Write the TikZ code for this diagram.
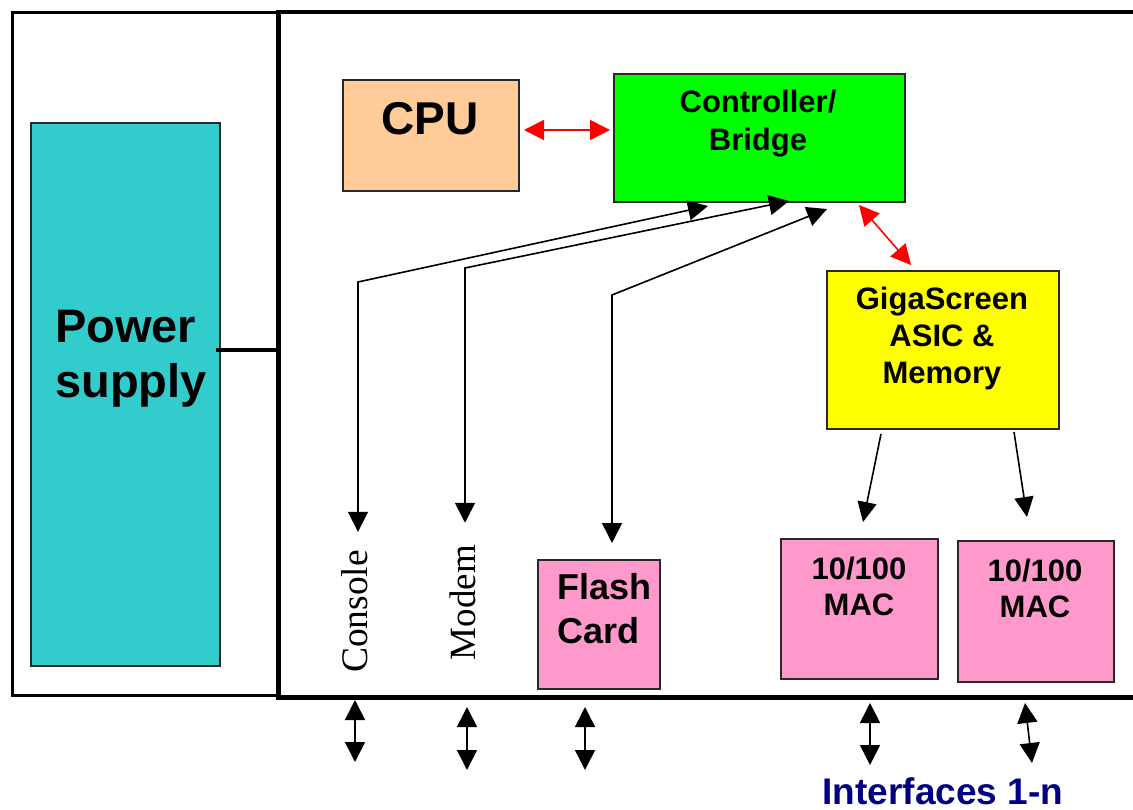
\documentclass[tikz,border=0pt]{standalone}
\usepackage{fontspec}
\setmainfont{Liberation Sans}
\newfontfamily\seriffont{Liberation Serif}
\usetikzlibrary{arrows.meta}
\definecolor{psucol}{RGB}{51,204,204}
\definecolor{cpucol}{RGB}{255,204,153}
\definecolor{ctrlcol}{RGB}{0,255,0}
\definecolor{gigacol}{RGB}{255,255,0}
\definecolor{pinkcol}{RGB}{255,153,204}
\definecolor{navycol}{RGB}{0,0,128}
\definecolor{bordercol}{RGB}{40,40,40}
\definecolor{redcol}{RGB}{255,0,0}
\begin{document}
\begin{tikzpicture}[x=1pt,y=-1pt,
  box/.style={draw=bordercol, line width=2pt, inner sep=0pt, anchor=north west},
  txt/.style={font=\bfseries, inner sep=0pt, anchor=base},
  arr/.style={line width=1.6pt, -{Triangle[length=20pt,width=19pt]}},
  darr/.style={line width=1.6pt, {Triangle[length=20pt,width=20pt]}-{Triangle[length=20pt,width=20pt]}},
  rarr/.style={draw=redcol, line width=1.6pt, {Triangle[length=20pt,width=20pt]}-{Triangle[length=20pt,width=20pt]}, color=redcol},
]
\useasboundingbox (0,0) rectangle (1133,810);

% enclosures
\node[draw=black, line width=3pt, inner sep=0pt, anchor=north west,
      minimum width=266pt, minimum height=683pt] (left) at (11,11) {};
\node[draw=black, line width=4.5pt, inner sep=0pt, anchor=north west,
      minimum width=880pt, minimum height=685pt] (main) at (276,10) {};

% boxes
\node[box, fill=psucol, minimum width=189pt, minimum height=543pt] (psu) at (30,122) {};
\node[box, fill=cpucol, minimum width=176pt, minimum height=111pt] (cpu) at (342,79) {};
\node[box, fill=ctrlcol, minimum width=291pt, minimum height=128pt] (ctrl) at (613,73) {};
\node[box, fill=gigacol, minimum width=232pt, minimum height=158pt] (giga) at (826,270) {};
\node[box, fill=pinkcol, minimum width=122pt, minimum height=129pt] (flash) at (537,559) {};
\node[box, fill=pinkcol, minimum width=157pt, minimum height=140pt] (mac1) at (780,538) {};
\node[box, fill=pinkcol, minimum width=156pt, minimum height=141pt] (mac2) at (957,540) {};

% texts
\node[txt, anchor=base west, font=\bfseries\fontsize{47}{50}\selectfont] (psut1) at (55,343) {Power};
\node[txt, anchor=base west, font=\bfseries\fontsize{47}{50}\selectfont] (psut2) at (55,398) {supply};
\node[txt, font=\bfseries\fontsize{46}{50}\selectfont] (cput) at (430,135) {CPU};
\node[txt, font=\bfseries\fontsize{31}{34}\selectfont] (ctrlt1) at (758,113) {Controller/};
\node[txt, font=\bfseries\fontsize{31}{34}\selectfont] (ctrlt2) at (758,151) {Bridge};
\node[txt, font=\bfseries\fontsize{31}{34}\selectfont] (gigat1) at (942,310) {GigaScreen};
\node[txt, font=\bfseries\fontsize{31}{34}\selectfont] (gigat2) at (942,347) {ASIC \&};
\node[txt, font=\bfseries\fontsize{31}{34}\selectfont] (gigat3) at (942,384) {Memory};
\node[txt, anchor=base west, font=\bfseries\fontsize{36}{40}\selectfont] (flasht1) at (557,599) {Flash};
\node[txt, anchor=base west, font=\bfseries\fontsize{36}{40}\selectfont] (flasht2) at (557,643) {Card};
\node[txt, font=\bfseries\fontsize{31}{34}\selectfont] (mac1t1) at (859,579) {10/100};
\node[txt, font=\bfseries\fontsize{31}{34}\selectfont] (mac1t2) at (859,615) {MAC};
\node[txt, font=\bfseries\fontsize{31}{34}\selectfont] (mac2t1) at (1035,581) {10/100};
\node[txt, font=\bfseries\fontsize{31}{34}\selectfont] (mac2t2) at (1035,617) {MAC};
\node[txt, text=navycol, font=\bfseries\fontsize{37}{40}\selectfont] (ifaces) at (943,804) {Interfaces 1-n};
\node[inner sep=0pt, anchor=base, rotate=90, font=\seriffont\fontsize{37.5}{40}\selectfont] (console) at (367,611.5) {Console};
\node[inner sep=0pt, anchor=base, rotate=90, font=\seriffont\fontsize{37}{40}\selectfont] (modem) at (475,602.5) {Modem};

% power connection
\coordinate (p1) at ([shift={(-5,-44.5)}]psu.east);
\draw[line width=4pt] (p1) -- ([xshift=3pt]p1 -| main.west);

% red links
\coordinate (r1) at ([shift={(4,-5.5)}]cpu.east);
\draw[rarr] (r1) -- ([xshift=-3pt]r1 -| ctrl.west);
\draw[rarr] ([shift={(99.5,2)}]ctrl.south) -- ([shift={(-32,-5)}]giga.north);

% console / modem / flash links
\coordinate (k1) at (358,282);
\coordinate (k2) at (465,268);
\coordinate (k3) at (612,295);
\draw[darr] ([shift={(-51.5,3)}]ctrl.south) -- (k1) -- ([yshift=18pt]k1 |- console.east);
\draw[darr] ([shift={(29.5,-2)}]ctrl.south) -- (k2) -- ([yshift=22pt]k2 |- modem.east);
\draw[darr] ([shift={(67.5,6)}]ctrl.south) -- (k3) -- ([yshift=16pt]k3 |- flash.north);

% giga to MACs
\draw[arr] ([shift={(-62,4)}]giga.south) -- ([shift={(3.5,-16)}]mac1.north);
\draw[arr] ([shift={(71,2)}]giga.south) -- ([shift={(-9,-23)}]mac2.north);

% interface arrows
\coordinate (b1a) at (355,700); \coordinate (b1b) at (355,762);
\coordinate (b2a) at (467,707); \coordinate (b2b) at (467,770);
\coordinate (b3a) at (585,707); \coordinate (b3b) at (585,770);
\coordinate (b4a) at (870,703); \coordinate (b4b) at (870,765);
\coordinate (b5a) at (1025,703); \coordinate (b5b) at (1032,763);
\foreach \i in {1,...,5} { \draw[darr] (b\i a) -- (b\i b); }
\end{tikzpicture}
\end{document}
